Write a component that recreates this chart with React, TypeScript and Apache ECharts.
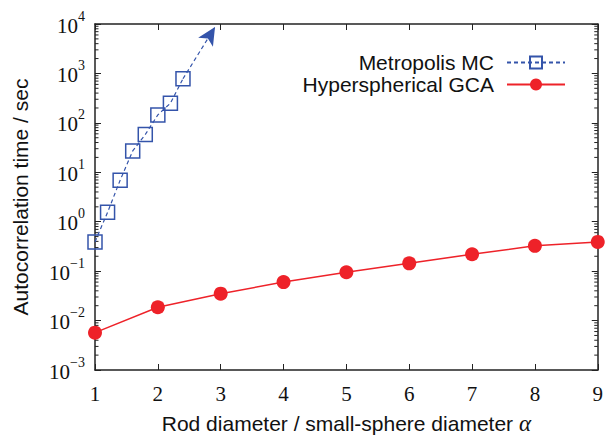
import React, { useEffect, useRef } from "react";
import * as echarts from "echarts";

// Data
const metroX = [1.0, 1.2, 1.4, 1.6, 1.8, 2.0, 2.2, 2.4];
const metroY = [0.39, 1.55, 6.9, 27, 58, 145, 250, 780];
const arrowFrom = [2.4, 780];
const arrowTo = [2.91, 8700];

const gcaX = [1, 2, 3, 4, 5, 6, 7, 8, 9];
const gcaY = [0.0057, 0.0186, 0.035, 0.06, 0.095, 0.144, 0.22, 0.325, 0.39];

const xTicks = [1, 2, 3, 4, 5, 6, 7, 8, 9];
const yDecades = [-3, -2, -1, 0, 1, 2, 3];
const minorFactors = [2, 3, 4, 5, 6, 7, 8, 9];

const X_MIN = 1;
const X_MAX = 9;
const Y_MIN = 0.001;
const Y_MAX = 10000;

const BLUE = "#3454aa";
const RED = "#ee2229";
const AXIS = "#222222";
const SERIF = "'Liberation Serif', 'DejaVu Serif', serif";
const SANS = "'Liberation Sans', Arial, sans-serif";

const minorTicks: number[] = [];
yDecades.forEach((d) => {
  minorFactors.forEach((f) => minorTicks.push(f * Math.pow(10, d)));
});

export default function App() {
  const ref = useRef<HTMLDivElement>(null);
  useEffect(() => {
    if (!ref.current) return;
    const chart = echarts.init(ref.current, undefined, { renderer: "svg" });
    const supFmt = (v: number) => {
      const e = Math.round(Math.log10(v));
      const s = e < 0 ? "\u2212" + -e : String(e);
      return `{b|10}{s|${s}}`;
    };
    const option: any = {
      animation: false,
      backgroundColor: "#ffffff",
      grid: { left: 95, right: 5, top: 24, bottom: 62, containLabel: false },
      legend: {
        orient: "vertical",
        right: 40,
        top: 52,
        padding: 0,
        align: "right",
        itemWidth: 58,
        itemHeight: 15,
        itemGap: 1,
        selectedMode: false,
        data: ["Metropolis MC", "Hyperspherical GCA"],
        textStyle: {
          fontFamily: SANS,
          fontSize: 21,
          color: "#111",
          lineHeight: 21,
          padding: [0, 8, 0, 0],
        },
      },
      xAxis: [
        {
          type: "value",
          position: "bottom",
          min: X_MIN,
          max: X_MAX,
          interval: 1,
          name: "Rod diameter / small-sphere diameter {a|\u03b1}",
          nameLocation: "middle",
          nameGap: 42,
          nameTextStyle: {
            fontFamily: SANS,
            fontSize: 21,
            color: "#111",
            rich: {
              a: { fontFamily: SERIF, fontStyle: "italic", fontSize: 23, color: "#111" },
            },
          },
          axisLine: { show: true, onZero: false, lineStyle: { color: AXIS, width: 1.5 } },
          axisTick: { show: true, inside: true, length: 6, lineStyle: { color: AXIS, width: 1 } },
          axisLabel: {
            margin: 13,
            fontFamily: SERIF,
            fontSize: 21,
            color: "#111",
            formatter: (v: number) => (xTicks.includes(v) ? String(v) : ""),
          },
          splitLine: { show: false },
        },
        {
          type: "value",
          position: "top",
          min: X_MIN,
          max: X_MAX,
          interval: 1,
          axisLine: { show: true, onZero: false, lineStyle: { color: AXIS, width: 1.5 } },
          axisTick: { show: true, inside: true, length: 6, lineStyle: { color: AXIS, width: 1 } },
          axisLabel: { show: false },
          splitLine: { show: false },
        },
      ],
      yAxis: [
        {
          type: "log",
          logBase: 10,
          position: "left",
          min: Y_MIN,
          max: Y_MAX,
          name: "Autocorrelation time / sec",
          nameLocation: "middle",
          nameGap: 64,
          nameTextStyle: { fontFamily: SANS, fontSize: 21, color: "#111" },
          axisLine: { show: true, onZero: false, lineStyle: { color: AXIS, width: 1.5 } },
          axisTick: { show: true, inside: true, length: 6, lineStyle: { color: AXIS, width: 1 } },
          axisLabel: {
            margin: 10,
            formatter: supFmt,
            rich: {
              b: { fontFamily: SERIF, fontSize: 21, color: "#111", lineHeight: 30, padding: [3, 0, 0, 0] },
              s: { fontFamily: SERIF, fontSize: 14, color: "#111", verticalAlign: "top", lineHeight: 16 },
            },
          },
          splitLine: { show: false },
        },
        {
          type: "log",
          logBase: 10,
          position: "right",
          min: Y_MIN,
          max: Y_MAX,
          axisLine: { show: true, onZero: false, lineStyle: { color: AXIS, width: 1.5 } },
          axisTick: { show: true, inside: true, length: 6, lineStyle: { color: AXIS, width: 1 } },
          axisLabel: { show: false },
          splitLine: { show: false },
        },
      ],
      series: [
        {
          type: "custom",
          name: "minorTicks",
          xAxisIndex: 0,
          yAxisIndex: 0,
          silent: true,
          z: 1,
          data: minorTicks.map((v) => [X_MIN, v]),
          encode: { x: 0, y: 1 },
          renderItem: (_p: any, api: any) => {
            const v = api.value(1);
            const pL = api.coord([X_MIN, v]);
            const pR = api.coord([X_MAX, v]);
            return {
              type: "group",
              children: [
                { type: "line", shape: { x1: pL[0], y1: pL[1], x2: pL[0] + 3.5, y2: pL[1] }, style: { stroke: AXIS, lineWidth: 1 } },
                { type: "line", shape: { x1: pR[0] - 3.5, y1: pR[1], x2: pR[0], y2: pR[1] }, style: { stroke: AXIS, lineWidth: 1 } },
              ],
            };
          },
        },
        {
          type: "line",
          name: "Metropolis MC",
          xAxisIndex: 0,
          yAxisIndex: 0,
          data: metroX.map((x, i) => [x, metroY[i]]),
          symbol: "rect",
          symbolSize: 14,
          z: 5,
          lineStyle: { color: BLUE, width: 1.2, type: [4, 3] },
          itemStyle: { color: "rgba(255,255,255,0)", borderColor: BLUE, borderWidth: 1.5 },
          markLine: {
            silent: true,
            symbol: ["none", "arrow"],
            symbolSize: [13, 18],
            label: { show: false },
            lineStyle: { color: BLUE, width: 1.2, type: [4, 3] },
            data: [[{ coord: arrowFrom }, { coord: arrowTo }]],
          },
        },
        {
          type: "line",
          name: "Hyperspherical GCA",
          xAxisIndex: 0,
          yAxisIndex: 0,
          data: gcaX.map((x, i) => [x, gcaY[i]]),
          symbol: "circle",
          symbolSize: 14,
          clip: false,
          z: 6,
          lineStyle: { color: RED, width: 1.5 },
          itemStyle: { color: RED },
        },
      ],
    };
    chart.setOption(option);
    return () => chart.dispose();
  }, []);
  return (
    <div
      ref={ref}
      style={{ position: "fixed", left: 0, top: 0, width: 606, height: 440, background: "#fff" }}
    />
  );
}
